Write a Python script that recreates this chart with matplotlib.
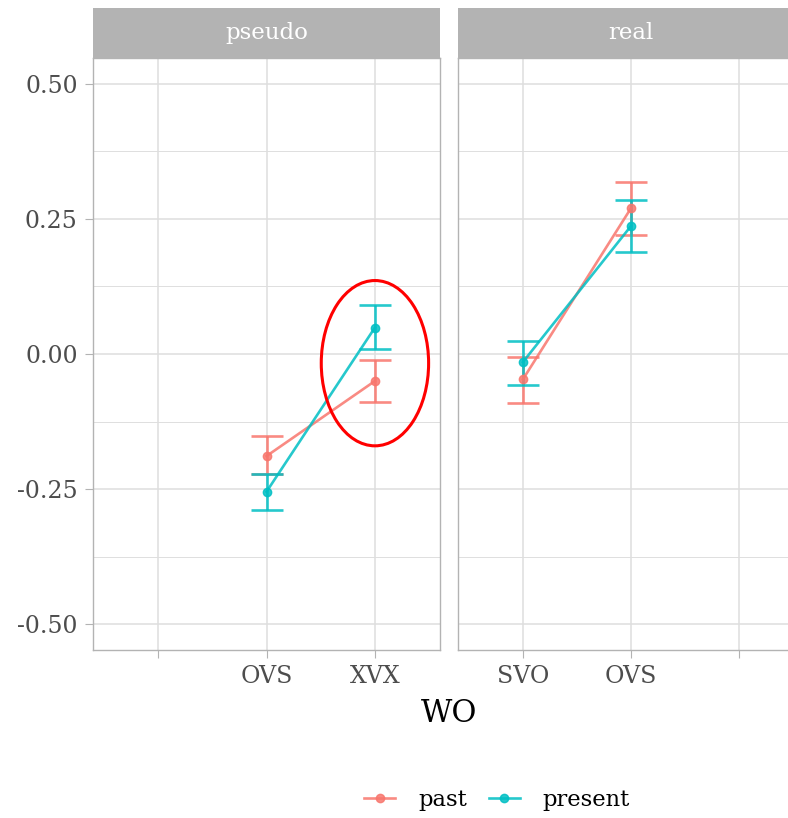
import numpy as np
import matplotlib.pyplot as plt
from matplotlib.patches import Ellipse
from matplotlib.lines import Line2D

# facet data (x positions are category indices 1..3)
pseudo_labels = ["", "OVS", "XVX"]
real_labels = ["SVO", "OVS", ""]

pseudo_x = [2, 3]
pseudo_past = [-0.189, -0.050]
pseudo_past_lo = [-0.222, -0.089]
pseudo_past_hi = [-0.152, -0.012]
pseudo_pres = [-0.255, 0.049]
pseudo_pres_lo = [-0.289, 0.009]
pseudo_pres_hi = [-0.222, 0.090]

real_x = [1, 2]
real_past = [-0.047, 0.270]
real_past_lo = [-0.090, 0.220]
real_past_hi = [-0.005, 0.318]
real_pres = [-0.015, 0.237]
real_pres_lo = [-0.057, 0.188]
real_pres_hi = [0.024, 0.286]

PAST = "#F8766D"
PRES = "#00BFC4"
GREY70 = "#B3B3B3"
GREY87 = "#DEDEDE"

plt.rcParams['font.family'] = ['DejaVu Serif']

fig = plt.figure(figsize=(7.88, 8.18), dpi=100)

W, H = 788.0, 818.0
def rect(l, t, r, b):
    return [l / W, 1 - b / H, (r - l) / W, (b - t) / H]

ax1 = fig.add_axes(rect(93, 58, 440, 650))
ax2 = fig.add_axes(rect(458, 58, 804, 650))
s1 = fig.add_axes(rect(93, 8, 440, 58))
s2 = fig.add_axes(rect(458, 8, 804, 58))

def draw(ax, xs, m, lo, hi, col):
    m = np.array(m)
    err = [m - np.array(lo), np.array(hi) - m]
    ax.errorbar(xs, m, yerr=err, color=col, fmt='o-', ms=6, lw=1.9,
                capsize=11.5, capthick=1.9, alpha=0.85, zorder=3)

draw(ax1, pseudo_x, pseudo_past, pseudo_past_lo, pseudo_past_hi, PAST)
draw(ax1, pseudo_x, pseudo_pres, pseudo_pres_lo, pseudo_pres_hi, PRES)
draw(ax2, real_x, real_past, real_past_lo, real_past_hi, PAST)
draw(ax2, real_x, real_pres, real_pres_lo, real_pres_hi, PRES)

for ax, labels in ((ax1, pseudo_labels), (ax2, real_labels)):
    ax.set_xlim(0.4, 3.6)
    ax.set_ylim(-0.548, 0.548)
    ax.set_xticks([1, 2, 3])
    ax.set_xticklabels(labels)
    ax.set_yticks([-0.5, -0.25, 0, 0.25, 0.5])
    ax.set_yticks([-0.375, -0.125, 0.125, 0.375], minor=True)
    ax.grid(True, which='major', color=GREY87, lw=1.1, zorder=0)
    ax.grid(True, which='minor', axis='y', color=GREY87, lw=0.7, zorder=0)
    ax.set_axisbelow(True)
    for sp in ax.spines.values():
        sp.set_color(GREY70)
        sp.set_linewidth(1.0)
    ax.tick_params(axis='both', which='major', color=GREY70, length=6,
                   labelsize=17, labelcolor="#4D4D4D", pad=5)
    ax.tick_params(axis='y', which='minor', length=0)

ax1.set_yticklabels(["-0.50", "-0.25", "0.00", "0.25", "0.50"])
ax2.tick_params(axis='y', which='both', left=False, labelleft=False)

ax1.add_patch(Ellipse((3, -0.017), 0.99, 0.306, fill=False,
                      edgecolor='red', lw=2.2, zorder=4))

for s, name in ((s1, "pseudo"), (s2, "real")):
    s.set_facecolor(GREY70)
    s.set_xticks([])
    s.set_yticks([])
    for sp in s.spines.values():
        sp.set_visible(False)
    s.text(0.5, 0.5, name, transform=s.transAxes, ha='center', va='center',
           color='white', fontsize=16.5)

fig.text(449 / W, 1 - 713 / H, "WO", ha='center', va='center', fontsize=22)

handles = [Line2D([], [], color=PAST, marker='o', ms=6, lw=1.9, alpha=0.85),
           Line2D([], [], color=PRES, marker='o', ms=6, lw=1.9, alpha=0.85)]
fig.legend(handles, ["past", "present"], loc='center', ncol=2, frameon=False,
           bbox_to_anchor=(497 / W, 1 - 800 / H), fontsize=16.3,
           handlelength=1.4, handletextpad=1.0, columnspacing=0.95)

fig.savefig("out.png", dpi=100)
